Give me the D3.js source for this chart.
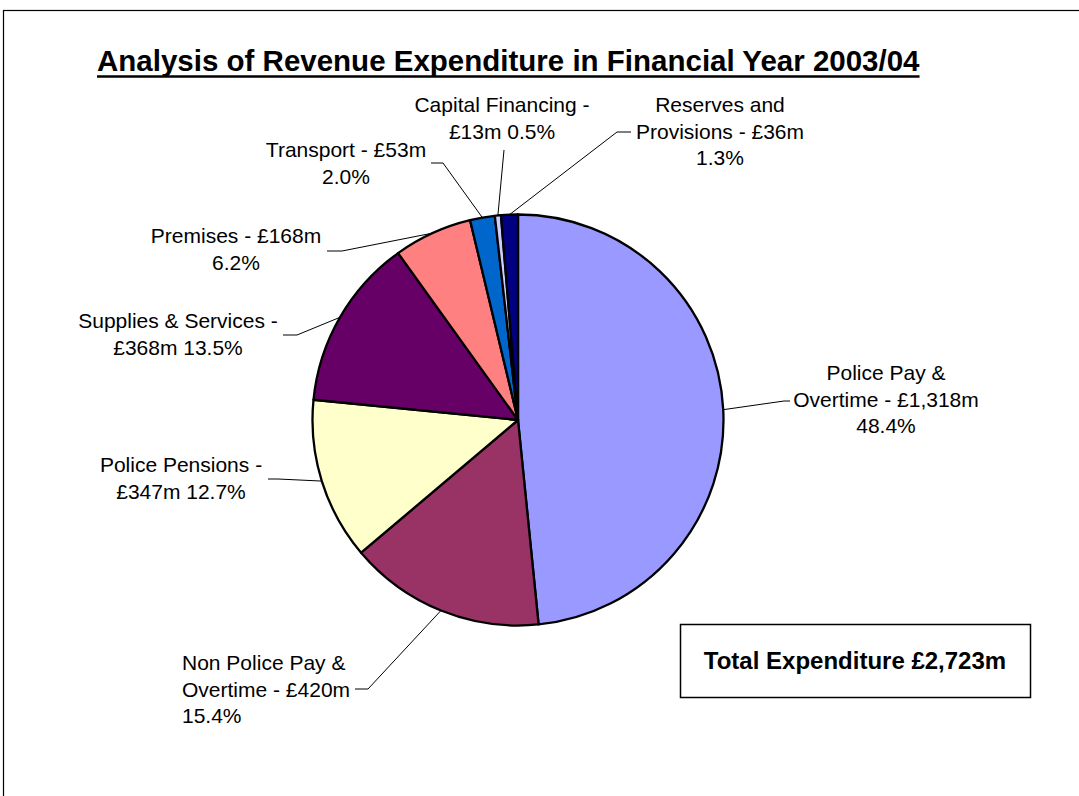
<!DOCTYPE html>
<html><head><meta charset="utf-8">
<script src="https://cdn.jsdelivr.net/npm/d3@7"></script>
<style>html,body{margin:0;padding:0;background:#fff;}svg{display:block;}</style>
</head><body>
<svg id="chart" width="1079" height="796"></svg>
<script>
// ---- data ----
const title = "Analysis of Revenue Expenditure in Financial Year 2003/04";
const categories = ["Police Pay & Overtime", "Non Police Pay & Overtime", "Police Pensions", "Supplies & Services", "Premises", "Transport", "Capital Financing", "Reserves and Provisions"];
const values = [1318, 420, 347, 368, 168, 53, 13, 36];
const percents = ["48.4%", "15.4%", "12.7%", "13.5%", "6.2%", "2.0%", "0.5%", "1.3%"];
const labelLines = [
  ["Police Pay &", "Overtime - £1,318m", "48.4%"],
  ["Non Police Pay &", "Overtime - £420m", "15.4%"],
  ["Police Pensions -", "£347m 12.7%"],
  ["Supplies & Services -", "£368m 13.5%"],
  ["Premises - £168m", "6.2%"],
  ["Transport - £53m", "2.0%"],
  ["Capital Financing -", "£13m 0.5%"],
  ["Reserves and", "Provisions - £36m", "1.3%"]
];
const totalText = "Total Expenditure £2,723m";

// ---- styles / layout ----
const colors = ["#9999FF", "#993366", "#FFFFCC", "#660066", "#FF8080", "#0066CC", "#CCCCFF", "#000080"];
const font = "'Liberation Sans', Arial, sans-serif";
const cx = 518, cy = 420, R = 205.5;
const lineH = 26.5;
const labelLayout = [
  {anchor: "middle", x: 886, y: 380, pts: [[784, 401], [790, 401]]},
  {anchor: "start",  x: 182, y: 670, pts: [[368, 689], [355, 689]]},
  {anchor: "middle", x: 181, y: 472, pts: [[278, 479], [268, 479]]},
  {anchor: "middle", x: 178, y: 328, pts: [[297, 335], [283, 335]]},
  {anchor: "middle", x: 236, y: 243, pts: [[342, 251], [327, 251]]},
  {anchor: "middle", x: 346, y: 157, pts: [[443, 163], [431, 163]]},
  {anchor: "middle", x: 502, y: 112, pts: [[504, 150]]},
  {anchor: "middle", x: 720, y: 112, pts: [[617, 132], [631, 132]]}
];

const svg = d3.select("#chart");

// outer frame
svg.append("rect").attr("x", 3.5).attr("y", 10.5).attr("width", 1200).attr("height", 1000)
  .attr("fill", "#fff").attr("stroke", "#000").attr("stroke-width", 1.2);

// title
const t = svg.append("text").attr("x", 97).attr("y", 71)
  .attr("font-family", font).attr("font-weight", "bold").attr("font-size", 29.5)
  .attr("fill", "#000").text(title);
const tw = t.node().getComputedTextLength();
svg.append("line").attr("x1", 97).attr("x2", 97 + tw).attr("y1", 76.5).attr("y2", 76.5)
  .attr("stroke", "#000").attr("stroke-width", 2.5);

// pie
const pie = d3.pie().sort(null).value(d => d);
const arcs = pie(values);
const arc = d3.arc().innerRadius(0).outerRadius(R);
const g = svg.append("g").attr("transform", `translate(${cx},${cy})`);
g.selectAll("path").data(arcs).join("path")
  .attr("d", arc)
  .attr("fill", (d, i) => colors[i])
  .attr("stroke", "#000").attr("stroke-width", 2.3).attr("stroke-linejoin", "round");

// leader lines
arcs.forEach((d, i) => {
  const a = (d.startAngle + d.endAngle) / 2;
  const p0 = [cx + R * Math.sin(a), cy - R * Math.cos(a)];
  const pts = [p0].concat(labelLayout[i].pts);
  svg.append("path").attr("d", d3.line()(pts))
    .attr("fill", "none").attr("stroke", "#000").attr("stroke-width", 1);
});

// labels
labelLines.forEach((lines, i) => {
  const L = labelLayout[i];
  const txt = svg.append("text").attr("font-family", font).attr("font-size", 21)
    .attr("fill", "#000").attr("text-anchor", L.anchor);
  lines.forEach((s, j) => {
    txt.append("tspan").attr("x", L.x).attr("y", L.y + j * lineH).text(s);
  });
});

// total box
svg.append("rect").attr("x", 680.5).attr("y", 624.5).attr("width", 350).attr("height", 73)
  .attr("fill", "#fff").attr("stroke", "#000").attr("stroke-width", 1.5);
svg.append("text").attr("x", 855).attr("y", 669).attr("text-anchor", "middle")
  .attr("font-family", font).attr("font-weight", "bold").attr("font-size", 24)
  .attr("fill", "#000").text(totalText);
</script>
</body></html>
